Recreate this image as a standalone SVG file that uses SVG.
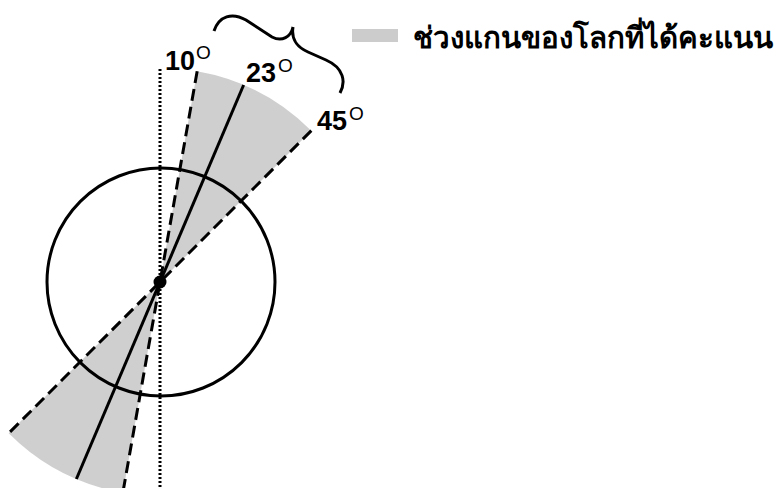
<svg xmlns="http://www.w3.org/2000/svg" width="781" height="488" viewBox="0 0 781 488">
<style>
.sector{fill:#cfcfcf;stroke:none}
.solid{stroke:#000;stroke-width:3;fill:none}
.dash{stroke:#000;stroke-width:3;fill:none;stroke-dasharray:12 6}
.dot{stroke:#000;stroke-width:3;fill:none;stroke-dasharray:2 2}
.num{font-family:"Liberation Sans",Arial,sans-serif;font-weight:bold;font-size:27px;fill:#000}
.deg{font-family:"Liberation Sans",Arial,sans-serif;font-size:19px;fill:#000}
.legend{font-family:"Noto Sans","DejaVu Sans",sans-serif;font-weight:bold;font-size:29.5px;fill:#000}
</style>
<rect width="781" height="488" fill="#fff"/>
<g id="sectors">
<path class="sector" d="M160,282 L197.16,71.25 A214,214 0 0,1 311.32,130.68 Z"/>
<path class="sector" d="M160,282 L122.84,492.75 A214,214 0 0,1 8.68,433.32 Z"/>
</g>
<g id="earth">
<circle cx="161" cy="282" r="114" fill="none" stroke="#000" stroke-width="3"/>
</g>
<g id="connectors">
<line class="dot" x1="160" y1="69" x2="160" y2="488"/>
<line class="dash" x1="197.16" y1="71.25" x2="122.84" y2="492.75"/>
<line class="dash" x1="311.32" y1="130.68" x2="8.68" y2="433.32"/>
<line class="solid" x1="243.62" y1="85.01" x2="76.38" y2="478.99"/>
</g>
<g id="center">
<circle cx="160" cy="282" r="6.5" fill="#000"/>
</g>
<g id="brace">
<path d="M214,31 C219,16 232,12 246,20 L272,37 C282,42 291,37 293,27 C291,40 297,47 308,52 L326,60 C344,68 346,82 340,93" fill="none" stroke="#000" stroke-width="3"/>
</g>
<g id="label-10"><text class="num" x="165" y="69.5">10</text><text class="deg" x="196" y="59">O</text></g>
<g id="label-23"><text class="num" x="246" y="82">23</text><text class="deg" x="278" y="72">O</text></g>
<g id="label-45"><text class="num" x="317" y="130">45</text><text class="deg" x="349" y="120">O</text></g>
<g id="legend">
<rect x="352" y="29" width="46" height="13" fill="#cccccc"/>
<text class="legend" x="413" y="48">ช่วงแกนของโลกที่ได้คะแนน</text>
</g>
</svg>
